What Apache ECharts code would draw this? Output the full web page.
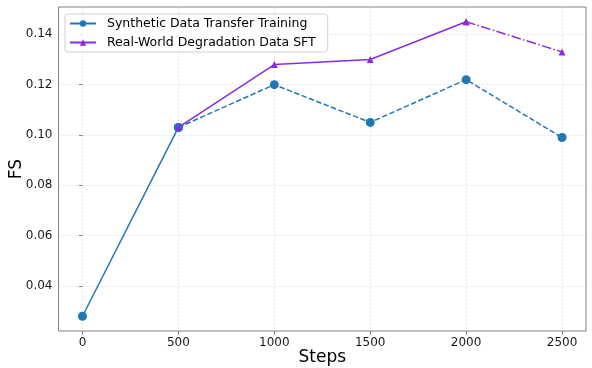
<!DOCTYPE html>
<html>
<head>
<meta charset="utf-8">
<script src="https://cdn.jsdelivr.net/npm/echarts@6/dist/echarts.min.js"></script>
<style>
  html, body { margin: 0; padding: 0; background: #fff; }
  #chart { width: 592px; height: 368px; }
</style>
</head>
<body>
<div id="chart"></div>
<script>
const steps = [0, 500, 1000, 1500, 2000, 2500];
const synthetic = [0.028, 0.103, 0.120, 0.105, 0.122, 0.099];
const realWorld = [null, 0.103, 0.128, 0.130, 0.145, 0.133];
const xTicks = [0, 500, 1000, 1500, 2000, 2500];
const yTicks = [0.04, 0.06, 0.08, 0.10, 0.12, 0.14];

const names = ['Synthetic Data Transfer Training', 'Real-World Degradation Data SFT'];
const blue = '#1f77b4';
const purple = '#8a2be2';
const font = 'DejaVu Sans';

// pair up steps with values, from index a to b inclusive
const pts = (vals, a, b) => steps.slice(a, b + 1).map((s, i) => [s, vals[a + i]]);

const chart = echarts.init(document.getElementById('chart'));

const axisCommon = {
  axisLine: { show: false },
  axisTick: { show: true, length: 3.5, lineStyle: { color: '#808080', width: 1 } },
  splitLine: { show: true, lineStyle: { color: '#dddddd', width: 0.8, type: [2, 2] } },
  nameTextStyle: { fontFamily: font, fontSize: 17, color: '#000' },
  nameMoveOverlap: false
};

chart.setOption({
  animation: false,
  grid: {
    left: 58.5, right: 6, top: 7, bottom: 37,
    outerBoundsMode: 'none', containLabel: false,
    show: true, borderColor: '#808080', borderWidth: 1, backgroundColor: '#fff'
  },
  legend: {
    data: names,
    orient: 'vertical',
    left: 65, top: 14,
    itemWidth: 26, itemHeight: 8, itemGap: 6,
    padding: [3, 12, 3, 4],
    borderColor: '#d0d0d0', borderWidth: 1, borderRadius: 3,
    backgroundColor: 'rgba(255,255,255,0.8)',
    textStyle: { fontFamily: font, fontSize: 12.5, color: '#000', padding: [0, 0, 0, 6] }
  },
  xAxis: Object.assign({}, axisCommon, {
    type: 'value', min: -125, max: 2625,
    name: 'Steps', nameLocation: 'middle', nameGap: 18,
    axisTick: Object.assign({}, axisCommon.axisTick, { customValues: xTicks }),
    axisLabel: {
      customValues: xTicks, fontFamily: font, fontSize: 12, color: '#1a1a1a', margin: 6,
      formatter: v => String(v)
    }
  }),
  yAxis: Object.assign({}, axisCommon, {
    type: 'value', min: 0.02215, max: 0.15085,
    name: 'FS', nameLocation: 'middle', nameGap: 33,
    axisTick: Object.assign({}, axisCommon.axisTick, { customValues: yTicks }),
    axisLabel: {
      customValues: yTicks, fontFamily: font, fontSize: 12, color: '#1a1a1a', margin: 6,
      formatter: v => v.toFixed(2)
    }
  }),
  series: [
    {
      name: names[0], type: 'line', data: pts(synthetic, 0, 1),
      symbol: 'circle', symbolSize: 9, color: blue,
      lineStyle: { width: 1.5, type: 'solid' }, z: 2
    },
    {
      name: names[0], type: 'line', data: pts(synthetic, 1, 5),
      symbol: 'circle', symbolSize: 9, color: blue,
      lineStyle: { width: 1.5, type: [5.5, 2.4] }, z: 2
    },
    {
      name: names[1], type: 'line', data: pts(realWorld, 1, 4),
      symbol: 'triangle', symbolSize: 7, color: purple,
      lineStyle: { width: 1.5, type: 'solid' }, z: 3
    },
    {
      name: names[1], type: 'line', data: pts(realWorld, 4, 5),
      symbol: 'triangle', symbolSize: 7, color: purple,
      lineStyle: { width: 1.5, type: [9.6, 2.4, 1.5, 2.4] }, z: 3
    }
  ]
});
</script>
</body>
</html>
